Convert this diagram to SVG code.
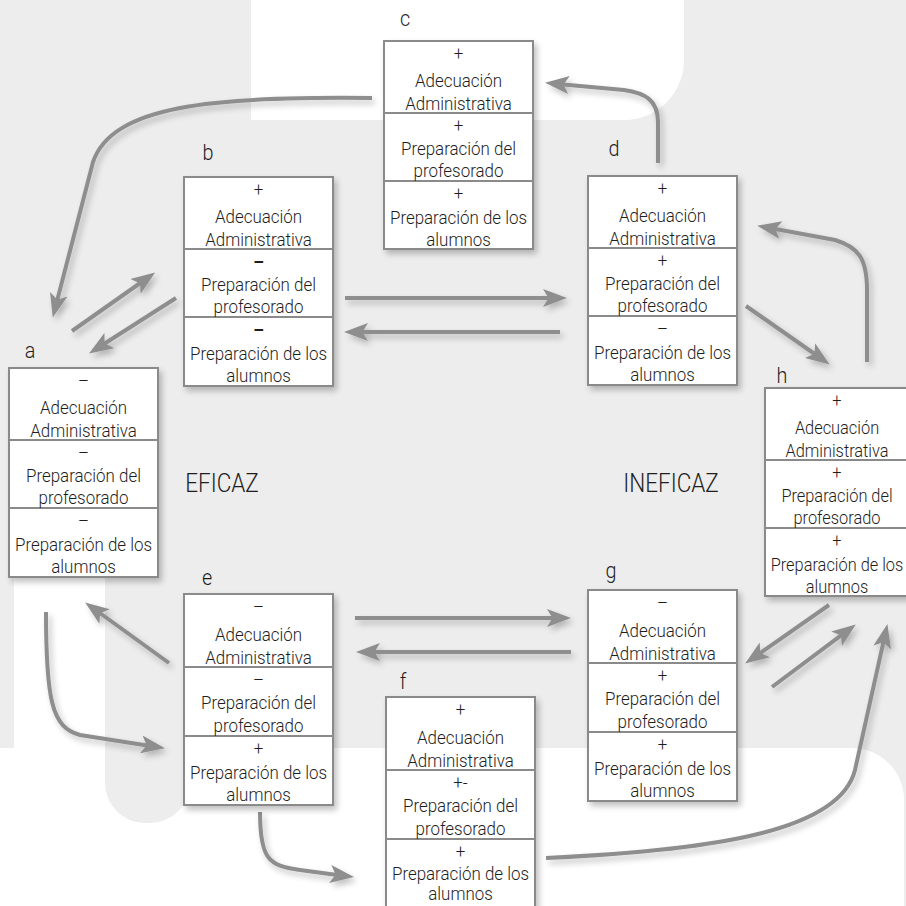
<svg xmlns="http://www.w3.org/2000/svg" width="906" height="906" viewBox="0 0 906 906">
  <defs>
    <style>
      .bg{fill:#ededed}
      .wh{fill:#ffffff}
      .box{fill:#ffffff;stroke:#8a8a8a;stroke-width:2}
      .div{stroke:#8a8a8a;stroke-width:2}
      .t{font-family:Roboto,"Open Sans",sans-serif;font-size:18px;font-weight:300;fill:#1e1e1e;text-anchor:middle}
      .b{font-weight:700}
      .lbl{font-family:Roboto,"Open Sans",sans-serif;font-size:22px;font-weight:300;fill:#1e1e1e;text-anchor:middle}
      .big{font-family:Roboto,"Open Sans",sans-serif;font-size:25px;font-weight:300;fill:#1e1e1e;text-anchor:middle}
      .conn path{fill:none;stroke:#8e8e8e;stroke-width:4;marker-end:url(#ah)}
    </style>
    <marker id="ah" viewBox="0 -10 24 20" refX="11" refY="0" markerWidth="24" markerHeight="20" markerUnits="userSpaceOnUse" orient="auto">
      <path d="M24,0 L0,-9 L5.5,0 L0,9 Z" fill="#8e8e8e"/>
    </marker>
    <filter id="shadow" x="-20%" y="-20%" width="140%" height="140%">
      <feGaussianBlur in="SourceAlpha" stdDeviation="3"/>
      <feOffset dx="3" dy="4" result="o"/>
      <feComponentTransfer><feFuncA type="linear" slope="0.25"/></feComponentTransfer>
      <feMerge><feMergeNode/><feMergeNode in="SourceGraphic"/></feMerge>
    </filter>
  </defs>

  <!-- backdrop -->
  <rect class="bg" width="906" height="906"/>
  <path class="wh" d="M251,0 H684 V60 A60,60 0 0 1 624,120 H251 Z"/>
  <path class="wh" d="M14,460 H105 V783 A40,40 0 0 0 145,823 H150 A40,40 0 0 0 190,783 V748 H852 A52,52 0 0 1 904,800 V906 H0 V748 H14 Z"/>

  <!-- connectors -->
  <g id="connectors" class="conn" filter="url(#shadow)">
    <path d="M372,98 C210,96 112,106 93,162 L56,305"/>
    <path d="M72,331 L144.5,280"/>
    <path d="M176,298 L100,346.5"/>
    <path d="M345,298 L554,298"/>
    <path d="M560,332 L357,332"/>
    <path d="M658,163 L658,122 C658,100 645,93 624,90 L558,84"/>
    <path d="M746,306 L819,357"/>
    <path d="M867,362 L867,290 C867,258 858,247 835,240 L770,228"/>
    <path d="M46,612 C46,700 52,728 80,735 L152.1,746.2"/>
    <path d="M169,663 L95.7,610"/>
    <path d="M355,618 L558,618"/>
    <path d="M571,652 L369,652"/>
    <path d="M829,605 L755.8,656.1"/>
    <path d="M772,687 L845.4,632.2"/>
    <path d="M546,858 C720,850 840,830 855,770 L884.6,636.8"/>
    <path d="M260,812 C260,858 268,866 300,870 L341.1,875.4"/>
  </g>

  <!-- node a -->
  <g id="node-a">
    <text class="lbl" transform="translate(30 358) scale(0.9 1)">a</text>
    <g transform="translate(9 368)">
      <rect class="box" width="149" height="209" filter="url(#shadow)"/>
      <line class="div" x1="0" y1="72" x2="149" y2="72"/>
      <line class="div" x1="0" y1="140" x2="149" y2="140"/>
      <g transform="translate(74.5 0) scale(0.94 1)">
        <text class="t" y="19">–</text>
        <text class="t" y="46">Adecuación</text>
        <text class="t" y="69">Administrativa</text>
        <text class="t" y="91">–</text>
        <text class="t" y="114">Preparación del</text>
        <text class="t" y="136">profesorado</text>
        <text class="t" y="159">–</text>
        <text class="t" y="183">Preparación de los</text>
        <text class="t" y="205">alumnos</text>
      </g>
    </g>
  </g>

  <!-- node b -->
  <g id="node-b">
    <text class="lbl" transform="translate(208 160) scale(0.9 1)">b</text>
    <g transform="translate(184 177)">
      <rect class="box" width="149" height="209" filter="url(#shadow)"/>
      <line class="div" x1="0" y1="72" x2="149" y2="72"/>
      <line class="div" x1="0" y1="140" x2="149" y2="140"/>
      <g transform="translate(74.5 0) scale(0.94 1)">
        <text class="t" y="19">+</text>
        <text class="t" y="46">Adecuación</text>
        <text class="t" y="69">Administrativa</text>
        <text class="t b" y="91">–</text>
        <text class="t" y="114">Preparación del</text>
        <text class="t" y="136">profesorado</text>
        <text class="t b" y="159">–</text>
        <text class="t" y="183">Preparación de los</text>
        <text class="t" y="205">alumnos</text>
      </g>
    </g>
  </g>

  <!-- node c -->
  <g id="node-c">
    <text class="lbl" transform="translate(405 26) scale(0.9 1)">c</text>
    <g transform="translate(384 41)">
      <rect class="box" width="149" height="208" filter="url(#shadow)"/>
      <line class="div" x1="0" y1="72" x2="149" y2="72"/>
      <line class="div" x1="0" y1="140" x2="149" y2="140"/>
      <g transform="translate(74.5 0) scale(0.94 1)">
        <text class="t" y="19">+</text>
        <text class="t" y="46">Adecuación</text>
        <text class="t" y="69">Administrativa</text>
        <text class="t" y="91">+</text>
        <text class="t" y="114">Preparación del</text>
        <text class="t" y="136">profesorado</text>
        <text class="t" y="159">+</text>
        <text class="t" y="183">Preparación de los</text>
        <text class="t" y="205">alumnos</text>
      </g>
    </g>
  </g>

  <!-- node d -->
  <g id="node-d">
    <text class="lbl" transform="translate(614 156) scale(0.9 1)">d</text>
    <g transform="translate(588 176)">
      <rect class="box" width="149" height="209" filter="url(#shadow)"/>
      <line class="div" x1="0" y1="72" x2="149" y2="72"/>
      <line class="div" x1="0" y1="140" x2="149" y2="140"/>
      <g transform="translate(74.5 0) scale(0.94 1)">
        <text class="t" y="19">+</text>
        <text class="t" y="46">Adecuación</text>
        <text class="t" y="69">Administrativa</text>
        <text class="t" y="91">+</text>
        <text class="t" y="114">Preparación del</text>
        <text class="t" y="136">profesorado</text>
        <text class="t" y="159">–</text>
        <text class="t" y="183">Preparación de los</text>
        <text class="t" y="205">alumnos</text>
      </g>
    </g>
  </g>

  <!-- node e -->
  <g id="node-e">
    <text class="lbl" transform="translate(207 585) scale(0.9 1)">e</text>
    <g transform="translate(184 594)">
      <rect class="box" width="149" height="211" filter="url(#shadow)"/>
      <line class="div" x1="0" y1="73" x2="149" y2="73"/>
      <line class="div" x1="0" y1="142" x2="149" y2="142"/>
      <g transform="translate(74.5 0) scale(0.94 1)">
        <text class="t" y="19">–</text>
        <text class="t" y="47">Adecuación</text>
        <text class="t" y="70">Administrativa</text>
        <text class="t" y="92">–</text>
        <text class="t" y="115">Preparación del</text>
        <text class="t" y="138">profesorado</text>
        <text class="t" y="161">+</text>
        <text class="t" y="185">Preparación de los</text>
        <text class="t" y="207">alumnos</text>
      </g>
    </g>
  </g>

  <!-- node f -->
  <g id="node-f">
    <text class="lbl" transform="translate(403 689) scale(0.9 1)">f</text>
    <g transform="translate(386 697)">
      <rect class="box" width="149" height="211" filter="url(#shadow)"/>
      <line class="div" x1="0" y1="73" x2="149" y2="73"/>
      <line class="div" x1="0" y1="142" x2="149" y2="142"/>
      <g transform="translate(74.5 0) scale(0.94 1)">
        <text class="t" y="19">+</text>
        <text class="t" y="47">Adecuación</text>
        <text class="t" y="70">Administrativa</text>
        <text class="t" y="92">+-</text>
        <text class="t" y="115">Preparación del</text>
        <text class="t" y="138">profesorado</text>
        <text class="t" y="161">+</text>
        <text class="t" y="183">Preparación de los</text>
        <text class="t" y="203">alumnos</text>
      </g>
    </g>
  </g>

  <!-- node g -->
  <g id="node-g">
    <text class="lbl" transform="translate(611 578) scale(0.9 1)">g</text>
    <g transform="translate(588 590)">
      <rect class="box" width="149" height="211" filter="url(#shadow)"/>
      <line class="div" x1="0" y1="73" x2="149" y2="73"/>
      <line class="div" x1="0" y1="142" x2="149" y2="142"/>
      <g transform="translate(74.5 0) scale(0.94 1)">
        <text class="t" y="19">–</text>
        <text class="t" y="47">Adecuación</text>
        <text class="t" y="70">Administrativa</text>
        <text class="t" y="92">+</text>
        <text class="t" y="115">Preparación del</text>
        <text class="t" y="138">profesorado</text>
        <text class="t" y="161">+</text>
        <text class="t" y="185">Preparación de los</text>
        <text class="t" y="207">alumnos</text>
      </g>
    </g>
  </g>

  <!-- node h -->
  <g id="node-h">
    <text class="lbl" transform="translate(782 383) scale(0.9 1)">h</text>
    <g transform="translate(765 388)">
      <rect class="box" width="149" height="208" filter="url(#shadow)"/>
      <line class="div" x1="0" y1="72" x2="149" y2="72"/>
      <line class="div" x1="0" y1="140" x2="149" y2="140"/>
      <g transform="translate(72 0) scale(0.91 1)">
        <text class="t" y="19">+</text>
        <text class="t" y="46">Adecuación</text>
        <text class="t" y="69">Administrativa</text>
        <text class="t" y="91">+</text>
        <text class="t" y="114">Preparación del</text>
        <text class="t" y="136">profesorado</text>
        <text class="t" y="159">+</text>
        <text class="t" y="183">Preparación de los</text>
        <text class="t" y="205">alumnos</text>
      </g>
    </g>
  </g>

  <!-- region labels -->
  <g id="regions">
    <text class="big" transform="translate(222 492) scale(0.9 1)">EFICAZ</text>
    <text class="big" transform="translate(671 492) scale(0.9 1)">INEFICAZ</text>
  </g>
</svg>
